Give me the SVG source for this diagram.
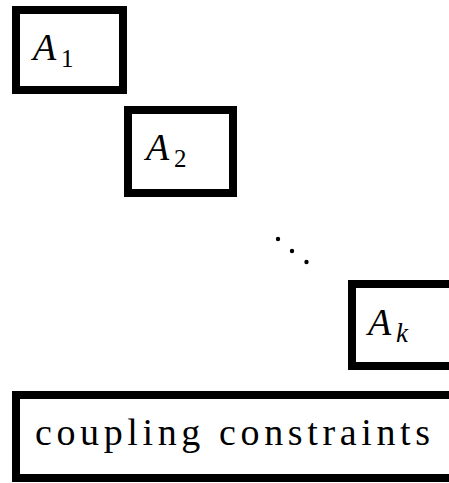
<svg xmlns="http://www.w3.org/2000/svg" width="449" height="483" viewBox="0 0 449 483" font-family="'Liberation Serif','Times New Roman',serif">
<style>
.box{fill:#fff;stroke:#000;stroke-width:8}
</style>
<rect width="449" height="483" fill="#fff"/>
<g id="A1">
<rect class="box" x="16" y="10" width="107" height="80"/>
<text x="33" y="60" font-family="'Liberation Serif','Times New Roman',serif" font-size="38" font-style="italic">A</text><text x="61" y="67" font-family="'Liberation Serif','Times New Roman',serif" font-size="25">1</text>
</g>
<g id="A2">
<rect class="box" x="128" y="110" width="105" height="83"/>
<text x="146" y="160" font-family="'Liberation Serif','Times New Roman',serif" font-size="38" font-style="italic">A</text><text x="174" y="167" font-family="'Liberation Serif','Times New Roman',serif" font-size="25">2</text>
</g>
<g id="dots">
<circle cx="278" cy="239" r="2.2"/>
<circle cx="292" cy="251" r="2.2"/>
<circle cx="306.5" cy="262" r="2.2"/>
</g>
<g id="Ak">
<rect class="box" x="352" y="284" width="200" height="82"/>
<text x="368" y="335" font-family="'Liberation Serif','Times New Roman',serif" font-size="38" font-style="italic">A</text><text x="396" y="342" font-family="'Liberation Serif','Times New Roman',serif" font-size="27" font-style="italic">k</text>
</g>
<g id="coupling">
<rect class="box" x="16" y="395" width="500" height="83"/>
<text x="35" y="445" font-family="'Liberation Serif','Times New Roman',serif" font-size="38" textLength="395" lengthAdjust="spacing">coupling constraints</text>
</g>
<g id="connectors"/>
</svg>
